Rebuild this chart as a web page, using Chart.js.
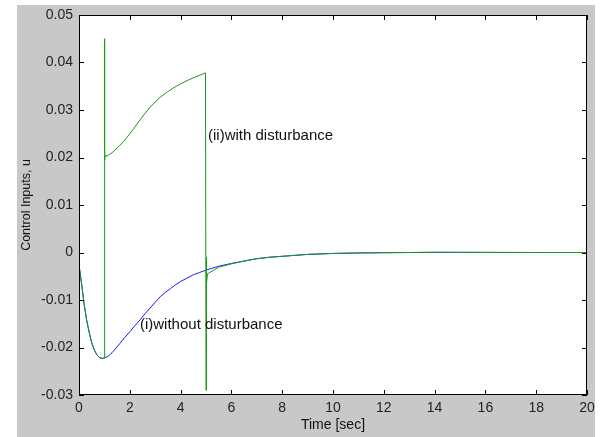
<!DOCTYPE html>
<html>
<head>
<meta charset="utf-8">
<script src="https://cdn.jsdelivr.net/npm/chart.js@4.4.0/dist/chart.umd.min.js"></script>
<style>
  html, body { margin: 0; padding: 0; background: #fff; }
  #wrap { width: 605px; height: 437px; }
</style>
</head>
<body>
<div id="wrap"><canvas id="chart" width="605" height="437"></canvas></div>
<script>
// (i) without disturbance
const timeNoDist = [0, 0.01, 0.1, 0.2, 0.3, 0.4, 0.5, 0.6, 0.7, 0.8, 0.9, 1.0,
  1.1, 1.2, 1.3, 1.4, 1.6, 1.8, 2.0, 2.2, 2.4, 2.6, 2.8, 3.0, 3.2, 3.4, 3.6, 3.8, 4.0, 4.25, 4.5, 4.75, 5.0,
  5.5, 6.0, 6.5, 7.0, 7.5, 8.0, 8.5, 9.0, 9.5, 10, 11, 12, 13, 14, 16, 18, 20];
const uNoDist = [0, -0.003, -0.0065, -0.0108, -0.0142, -0.0168, -0.019, -0.0205, -0.0215, -0.0221, -0.0223, -0.0222,
  -0.022, -0.0216, -0.0211, -0.0205, -0.0192, -0.0179, -0.0167, -0.0154, -0.0142, -0.0129, -0.0117, -0.0105, -0.0093, -0.0084, -0.0076, -0.0068, -0.0061, -0.0054, -0.0047, -0.0042, -0.0037,
  -0.0029, -0.0023, -0.0018, -0.0013, -0.001, -0.0008, -0.0006, -0.0004, -0.0003, -0.0002, -0.0001, -0.00004, 0, 0.00004, 0.00002, 0, 0];

// (ii) with disturbance
const timeDist = [0, 0.01, 0.1, 0.2, 0.3, 0.4, 0.5, 0.6, 0.7, 0.8, 0.9, 1.0,
  1.0, 1.02, 1.03, 1.1, 1.3, 1.5, 1.75, 2.0, 2.2, 2.4, 2.6, 2.8, 3.0, 3.2, 3.45, 3.7, 4.0, 4.3, 4.6, 4.98,
  5.0, 5.01, 5.03, 5.06, 5.5, 6.0, 6.5, 7.0, 7.5, 8.0, 8.5, 9.0, 9.5, 10, 11, 12, 13, 14, 16, 18, 20];
const uDist = [0, -0.003, -0.0065, -0.0108, -0.0142, -0.0168, -0.019, -0.0205, -0.0215, -0.0221, -0.0223, -0.0222,
  0.045, 0.0195, 0.0204, 0.0203, 0.021, 0.022, 0.0233, 0.025, 0.0264, 0.0279, 0.0293, 0.0306, 0.0317, 0.0327, 0.0337, 0.0346, 0.0355, 0.0363, 0.037, 0.0378,
  -0.029, -0.001, -0.0065, -0.0045, -0.0031, -0.0024, -0.0018, -0.0013, -0.001, -0.0008, -0.0006, -0.0004, -0.0003, -0.0002, -0.0001, -0.00004, 0, 0.00004, 0.00002, 0, 0];

const xTicks = [0, 2, 4, 6, 8, 10, 12, 14, 16, 18, 20];
const yTicks = [-0.03, -0.02, -0.01, 0, 0.01, 0.02, 0.03, 0.04, 0.05];

const notes = [
  { text: '(ii)with disturbance', x: 5.08, y: 0.0245 },
  { text: '(i)without disturbance', x: 2.4, y: -0.0153 }
];

const FONT = 'Liberation Sans, Arial, sans-serif';

function toPoints(xs, ys) {
  return xs.map((x, i) => ({ x: x, y: ys[i] }));
}

// matlab style figure: gray frame, white axes box, inward ticks
const figurePlugin = {
  id: 'figure',
  beforeDraw(chart) {
    const ctx = chart.ctx;
    const a = chart.chartArea;
    ctx.save();
    ctx.fillStyle = '#fff';
    ctx.fillRect(0, 0, chart.width, chart.height);
    ctx.fillStyle = '#c8c8c8';
    ctx.fillRect(17, 5, 578, 432);
    ctx.fillStyle = '#fff';
    ctx.fillRect(a.left, a.top, a.right - a.left, a.bottom - a.top);
    ctx.restore();
  },
  afterDraw(chart) {
    const ctx = chart.ctx;
    const a = chart.chartArea;
    const xs = chart.scales.x, ys = chart.scales.y;
    ctx.save();
    ctx.strokeStyle = '#000';
    ctx.lineWidth = 1;
    ctx.strokeRect(a.left + 0.5, a.top + 0.5, a.right - a.left - 1, a.bottom - a.top - 1);
    ctx.beginPath();
    xTicks.forEach(v => {
      const px = Math.round(xs.getPixelForValue(v)) + 0.5;
      ctx.moveTo(px, a.bottom); ctx.lineTo(px, a.bottom - 5);
      ctx.moveTo(px, a.top); ctx.lineTo(px, a.top + 5);
    });
    yTicks.forEach(v => {
      const py = Math.round(ys.getPixelForValue(v)) + 0.5;
      ctx.moveTo(a.left, py); ctx.lineTo(a.left + 5, py);
      ctx.moveTo(a.right, py); ctx.lineTo(a.right - 5, py);
    });
    ctx.stroke();

    ctx.fillStyle = '#111';
    ctx.font = '15px ' + FONT;
    ctx.textBaseline = 'middle';
    ctx.textAlign = 'left';
    notes.forEach(n => {
      ctx.fillText(n.text, xs.getPixelForValue(n.x), ys.getPixelForValue(n.y));
    });
    ctx.restore();
  }
};

new Chart(document.getElementById('chart'), {
  type: 'line',
  data: {
    datasets: [
      {
        label: 'with disturbance',
        data: toPoints(timeDist, uDist),
        borderColor: '#1a9a1a',
        borderWidth: 1,
        pointRadius: 0,
        tension: 0,
        order: 0
      },
      {
        label: 'without disturbance',
        data: toPoints(timeNoDist, uNoDist),
        borderColor: '#1a1aff',
        borderWidth: 1,
        pointRadius: 0,
        tension: 0,
        order: 1
      }
    ]
  },
  options: {
    responsive: false,
    animation: false,
    events: [],
    layout: { padding: { left: 17, top: 15, right: 18, bottom: 0 } },
    plugins: {
      legend: { display: false },
      tooltip: { enabled: false }
    },
    scales: {
      x: {
        type: 'linear',
        min: 0,
        max: 20,
        afterBuildTicks: s => { s.ticks = xTicks.map(v => ({ value: v })); },
        afterFit: s => { s.height = 42; },
        grid: { display: false, drawTicks: false },
        border: { display: false },
        ticks: {
          padding: 5,
          color: '#222',
          font: { family: FONT, size: 14 },
          maxRotation: 0,
          callback: v => String(v)
        },
        title: {
          display: true,
          text: 'Time [sec]',
          color: '#111',
          font: { family: FONT, size: 14 },
          padding: { top: 0, bottom: 3 }
        }
      },
      y: {
        type: 'linear',
        min: -0.03,
        max: 0.05,
        afterBuildTicks: s => { s.ticks = yTicks.map(v => ({ value: v })); },
        afterFit: s => { s.width = 62; },
        grid: { display: false, drawTicks: false },
        border: { display: false },
        ticks: {
          padding: 6,
          color: '#222',
          font: { family: FONT, size: 14 },
          callback: v => String(+v.toFixed(2))
        },
        title: {
          display: true,
          text: 'Control Inputs, u',
          color: '#111',
          font: { family: FONT, size: 12.5 },
          padding: { top: 2, bottom: 0 }
        }
      }
    }
  },
  plugins: [figurePlugin]
});
</script>
</body>
</html>
